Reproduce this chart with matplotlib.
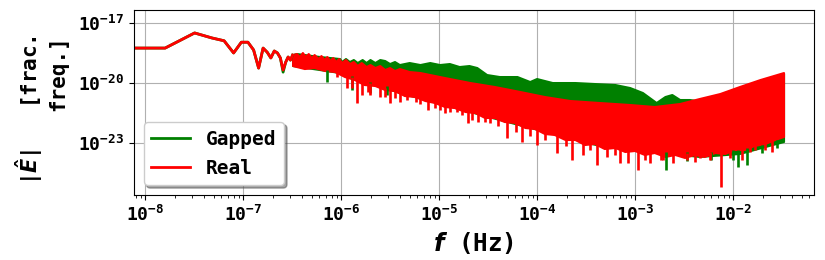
import numpy as np
import matplotlib
matplotlib.use("Agg")
import matplotlib.pyplot as plt
from matplotlib.ticker import NullLocator

plt.rcParams['font.family'] = 'monospace'
plt.rcParams['font.monospace'] = ['DejaVu Sans Mono']
plt.rcParams['font.weight'] = 'bold'
plt.rcParams['mathtext.fontset'] = 'dejavusans'
plt.rcParams['mathtext.default'] = 'regular'

# lowest frequency bins (Hz) and |E| values
freq_low = [0, 1.6e-8, 3.2e-8, 4.8e-8, 6.4e-8, 8.0e-8, 9.6e-8, 1.12e-7, 1.28e-7,
            1.44e-7, 1.6e-7, 1.76e-7, 1.92e-7, 2.08e-7, 2.24e-7, 2.4e-7, 2.56e-7,
            2.72e-7, 2.88e-7, 3.04e-7, 3.2e-7]
real_low = [5.6e-19, 5.6e-19, 3.2e-18, 1.8e-18, 1.3e-18, 3.2e-19, 1.1e-18, 1.1e-18,
            4.5e-19, 5.6e-20, 5.6e-19, 3.5e-19, 1.8e-19, 4.0e-19, 3.2e-19, 1.8e-19,
            4.5e-20, 1.1e-19, 2.0e-19, 1.4e-19, 2.5e-19]
gapped_low = [5.6e-19, 5.6e-19, 3.2e-18, 1.8e-18, 1.3e-18, 3.2e-19, 1.1e-18, 1.1e-18,
              4.5e-19, 5.6e-20, 5.6e-19, 3.5e-19, 1.8e-19, 4.0e-19, 3.2e-19, 1.8e-19,
              3.5e-20, 1.1e-19, 2.0e-19, 1.4e-19, 2.5e-19]

# dense part of the spectra, edges as (log10 f, log10 |E|)
real_top = [(-6.49, -18.6), (-6.45, -18.55), (-6.42, -18.7), (-6.39, -18.5),
            (-6.36, -18.7), (-6.33, -18.55), (-6.30, -18.75), (-6.27, -18.6),
            (-6.23, -18.8), (-6.20, -18.65), (-6.17, -18.85), (-6.14, -18.7),
            (-6.11, -18.9), (-6.08, -18.75), (-6.05, -18.95), (-6.02, -18.8),
            (-5.99, -19.0), (-5.95, -18.85), (-5.91, -19.05), (-5.87, -18.95),
            (-5.83, -19.15), (-5.79, -19.0), (-5.74, -19.2), (-5.70, -19.1),
            (-5.65, -19.25), (-5.60, -19.15), (-5.55, -19.35), (-5.50, -19.25),
            (-5.45, -19.4), (-5.40, -19.3), (-5.30, -19.45), (-5.19, -19.5),
            (-4.94, -19.75), (-4.68, -20.0), (-4.43, -20.2), (-4.17, -20.45),
            (-3.92, -20.7), (-3.66, -20.9), (-3.36, -21.0), (-3.05, -21.1),
            (-2.80, -21.2), (-2.54, -21.05), (-2.34, -20.8), (-2.13, -20.55),
            (-1.93, -20.2), (-1.72, -19.85), (-1.48, -19.5)]
real_bottom = [(-6.49, -19.15), (-6.37, -19.3), (-6.27, -19.25), (-6.16, -19.4),
               (-6.06, -19.45), (-5.96, -19.7), (-5.86, -19.85), (-5.76, -20.1),
               (-5.65, -20.15), (-5.55, -20.35), (-5.45, -20.4), (-5.35, -20.65),
               (-5.24, -20.7), (-5.14, -20.9), (-5.04, -21.0), (-4.94, -21.2),
               (-4.84, -21.25), (-4.73, -21.45), (-4.63, -21.5), (-4.53, -21.75),
               (-4.43, -21.75), (-4.33, -21.95), (-4.22, -22.0), (-4.12, -22.25),
               (-4.02, -22.3), (-3.92, -22.55), (-3.82, -22.6), (-3.71, -22.85),
               (-3.61, -22.85), (-3.51, -23.1), (-3.41, -23.05), (-3.31, -23.3),
               (-3.20, -23.25), (-3.10, -23.45), (-3.00, -23.4), (-2.90, -23.6),
               (-2.80, -23.5), (-2.69, -23.7), (-2.59, -23.6), (-2.49, -23.75),
               (-2.39, -23.6), (-2.29, -23.7), (-2.18, -23.5), (-2.08, -23.55),
               (-1.98, -23.35), (-1.88, -23.35), (-1.78, -23.15), (-1.67, -23.05),
               (-1.57, -22.85), (-1.48, -22.7)]
# downward spikes: (log10 f, log10 |E| at base, log10 |E| at tip)
real_spikes = [(-6.04, -19.35, -19.7), (-5.94, -19.65, -20.25), (-5.89, -19.7, -20.25),
               (-5.84, -19.8, -21.0), (-5.79, -19.85, -20.6), (-5.73, -20.0, -20.45),
               (-5.70, -20.0, -20.6), (-5.60, -20.1, -20.7), (-5.55, -20.25, -20.7),
               (-5.50, -20.25, -21.0), (-5.45, -20.3, -20.75), (-5.40, -20.4, -20.95),
               (-5.33, -20.5, -20.85), (-5.24, -20.6, -20.95), (-5.19, -20.7, -21.05),
               (-5.11, -20.8, -21.35), (-5.04, -20.9, -21.25), (-4.99, -21.0, -21.35),
               (-4.94, -21.05, -21.5), (-4.89, -21.1, -21.45), (-4.82, -21.2, -21.45),
               (-4.77, -21.25, -21.6), (-4.71, -21.25, -22.0), (-4.66, -21.35, -21.85),
               (-4.60, -21.4, -21.95), (-4.53, -21.6, -21.95), (-4.48, -21.55, -22.0),
               (-4.40, -21.65, -22.15), (-4.31, -21.8, -22.75), (-4.22, -21.9, -22.45),
               (-4.15, -22.0, -22.95), (-4.07, -22.15, -22.65), (-4.00, -22.15, -23.1),
               (-3.92, -22.45, -22.85), (-3.80, -22.45, -23.5), (-3.71, -22.75, -23.15),
               (-3.64, -22.65, -23.85), (-3.53, -22.8, -23.6), (-3.46, -22.95, -23.35),
               (-3.39, -22.95, -24.1), (-3.29, -23.05, -23.7), (-3.20, -23.15, -23.6),
               (-3.15, -23.2, -24.0), (-3.07, -23.25, -24.0), (-2.97, -23.35, -24.35),
               (-2.90, -23.5, -23.85), (-2.85, -23.4, -24.0), (-2.74, -23.5, -23.85),
               (-2.72, -23.45, -23.85), (-2.61, -23.5, -24.0), (-2.47, -23.5, -23.85),
               (-2.39, -23.5, -23.95), (-2.34, -23.45, -23.75), (-2.24, -23.45, -23.85),
               (-2.12, -23.35, -25.2), (-2.03, -23.35, -23.75), (-1.91, -23.2, -23.85),
               (-1.83, -23.15, -23.45), (-1.78, -22.95, -23.35), (-1.67, -22.95, -23.35),
               (-1.60, -22.7, -23.45)]

gapped_top = [(-6.49, -18.6), (-6.45, -18.55), (-6.21, -18.7), (-6.01, -18.8),
              (-5.99, -18.95), (-5.95, -18.8), (-5.91, -18.95), (-5.87, -18.85),
              (-5.83, -19.0), (-5.78, -18.85), (-5.74, -19.0), (-5.70, -18.85),
              (-5.65, -19.0), (-5.60, -18.85), (-5.55, -18.9), (-5.50, -19.05),
              (-5.45, -18.95), (-5.40, -19.1), (-5.30, -19.0), (-5.19, -19.1),
              (-5.09, -19.0), (-4.99, -19.1), (-4.89, -19.05), (-4.79, -19.2),
              (-4.69, -19.15), (-4.61, -19.25), (-4.51, -19.6), (-4.38, -19.7),
              (-4.20, -19.7), (-4.07, -19.95), (-4.00, -19.8), (-3.84, -20.0),
              (-3.61, -20.0), (-3.41, -20.05), (-3.20, -20.1), (-3.05, -20.25),
              (-2.92, -20.5), (-2.78, -21.0), (-2.69, -20.7), (-2.62, -20.6),
              (-2.54, -20.85), (-2.44, -20.85), (-2.37, -20.9), (-2.29, -20.85),
              (-2.13, -20.6), (-1.93, -20.25), (-1.72, -19.9), (-1.48, -19.55)]
gapped_bottom = [(-6.49, -19.15), (-6.01, -19.5), (-5.40, -20.5), (-4.38, -21.85),
                 (-3.36, -23.15), (-2.34, -23.7), (-1.93, -23.55), (-1.48, -22.95)]
gapped_spikes = [(-6.14, -19.35, -19.95), (-5.89, -19.65, -20.35), (-5.70, -19.95, -20.5),
                 (-5.53, -20.15, -20.6), (-2.68, -23.45, -24.35), (-2.47, -23.45, -23.9),
                 (-2.23, -23.45, -23.85), (-2.00, -23.35, -23.85), (-1.95, -23.35, -24.2),
                 (-1.86, -23.25, -24.1), (-1.70, -23.1, -23.5), (-1.55, -22.85, -23.25)]


def band(ax, top, bottom, spikes, color):
    t = 10.0 ** np.array(top)
    b = 10.0 ** np.array(bottom)[::-1]
    xs = np.concatenate([t[:, 0], b[:, 0]])
    ys = np.concatenate([t[:, 1], b[:, 1]])
    ax.fill(xs, ys, facecolor=color, edgecolor=color, lw=1.5, joinstyle='round')
    s = 10.0 ** np.array(spikes)
    ax.vlines(s[:, 0], s[:, 2], s[:, 1], color=color, lw=1.9)


fig = plt.figure(figsize=(8.25, 2.6), dpi=100)
ax = fig.add_axes([0.1624, 0.25, 0.8243, 0.7115])
ax.set_xscale('log')
ax.set_yscale('log')

lw = 2
ax.plot(freq_low, gapped_low, color='green', lw=lw, label='Gapped')
band(ax, gapped_top, gapped_bottom, gapped_spikes, 'green')
ax.plot(freq_low, real_low, color='red', lw=lw, label='Real')
band(ax, real_top, real_bottom, real_spikes, 'red')

ax.set_xlim(7.7e-9, 6.7e-2)
ax.set_ylim(2.5e-26, 4.5e-17)
ax.set_yticks([1e-23, 1e-20, 1e-17])
ax.yaxis.set_minor_locator(NullLocator())
ax.tick_params(labelsize=13)
for lab in ax.get_xticklabels() + ax.get_yticklabels():
    lab.set_fontweight('bold')

ax.grid(True, which='major', color='#b0b0b0', lw=0.8)
ax.set_axisbelow(True)

ax.set_xlabel(r'$\boldsymbol{f}$ (Hz)', fontsize=17.5, fontweight='bold')
ax.set_ylabel(r'$|\hat{\boldsymbol{E}}|$   [frac.' + '\n' + 'freq.]',
              fontsize=15, fontweight='bold', multialignment='right', labelpad=7)
ax.yaxis.label.set_y(0.46)

ax.legend(loc='lower left', shadow=True, fontsize=14)

fig.savefig('out.png', dpi=100)
